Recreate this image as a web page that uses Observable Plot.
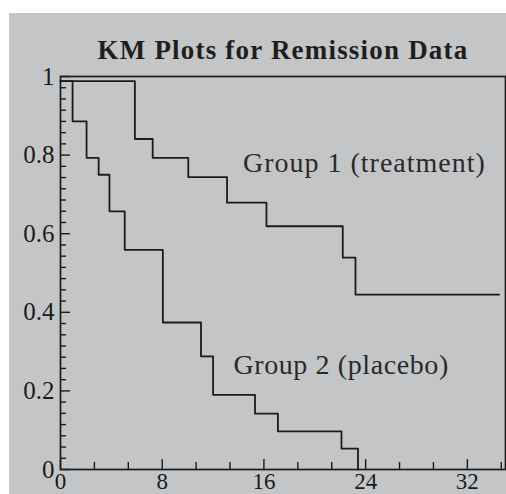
<!DOCTYPE html>
<html><head><meta charset="utf-8">
<script src="https://cdn.jsdelivr.net/npm/d3@7"></script>
<script src="https://cdn.jsdelivr.net/npm/@observablehq/plot@0.6"></script>
<style>body{margin:0;background:#fff}</style>
</head><body><div id="chart"></div>
<script>
// ---- data ----
const title = "KM Plots for Remission Data";
const g1Time = [0, 5.85, 7.25, 10.05, 13.1, 16.2, 22.2, 23.2, 34.5];
const g1Surv = [0.988, 0.841, 0.793, 0.744, 0.679, 0.619, 0.539, 0.445, 0.445];
const g2Time = [0, 0.95, 2.05, 3.0, 3.85, 5.05, 8.05, 11.05, 12.0, 15.3, 17.1, 22.1, 23.4];
const g2Surv = [0.988, 0.886, 0.793, 0.750, 0.657, 0.559, 0.374, 0.288, 0.190, 0.142, 0.097, 0.053, 0];
const xTicks = [0, 8, 16, 24, 32];
const xTickLabels = ["0", "8", "16", "24", "32"];
const yTicks = [0, 0.2, 0.4, 0.6, 0.8, 1];
const yTickLabels = ["0", "0.2", "0.4", "0.6", "0.8", "1"];
const xMinorPerMajor = 3;
const yMinorPerMajor = 7;
const groupLabels = ["Group 1 (treatment)", "Group 2 (placebo)"];
const labelX = [14.35, 13.6];
const labelY = [0.758, 0.244];

// ---- build ----
const W = 506, H = 494, ML = 60, MR = 1, MT = 76, MB = 25;
const plotW = W - ML - MR, plotH = H - MT - MB;
const xDomain = [0, 35];

const series = [
  ...g1Time.map((t, i) => ({t, s: g1Surv[i], g: "g1"})),
  ...g2Time.map((t, i) => ({t, s: g2Surv[i], g: "g2"}))
];
const xMinor = [];
for (let i = 0; i < xTicks.length; i++) {
  const step = (xTicks[1] - xTicks[0]) / xMinorPerMajor;
  for (let k = 1; k < xMinorPerMajor; k++) xMinor.push(xTicks[i] + k * step);
}
const yMinor = [];
for (let i = 0; i < yTicks.length - 1; i++) {
  const step = (yTicks[i + 1] - yTicks[i]) / yMinorPerMajor;
  for (let k = 1; k < yMinorPerMajor; k++) yMinor.push(yTicks[i] + k * step);
}
const ink = "#1b1b1b";
const labels = groupLabels.map((text, i) => ({text, x: labelX[i], y: labelY[i]}));

const chart = Plot.plot({
  width: W, height: H,
  marginLeft: ML, marginRight: MR, marginTop: MT, marginBottom: MB,
  x: {domain: xDomain},
  y: {domain: [0, 1]},
  style: {
    fontFamily: "'Liberation Serif', 'Times New Roman', serif",
    background: "linear-gradient(#c4c5c7,#c4c5c7) 9px 13px / 100% 100% no-repeat, #ffffff",
    color: ink,
    overflow: "visible"
  },
  marks: [
    Plot.ruleY(yMinor, {y: d => d, insetRight: plotW - 6, stroke: ink, strokeWidth: 1.4}),
    Plot.ruleY(yTicks, {y: d => d, insetRight: plotW - 10, stroke: ink, strokeWidth: 1.4}),
    Plot.ruleX(xMinor.filter(d => d < xDomain[1]), {x: d => d, insetTop: plotH - 7, stroke: ink, strokeWidth: 1.4}),
    Plot.ruleX(xTicks, {x: d => d, insetTop: plotH - 10, stroke: ink, strokeWidth: 1.4}),
    Plot.frame({stroke: ink, strokeWidth: 1.7}),
    Plot.line(series, {x: "t", y: "s", z: "g", curve: "step-after", stroke: ink, strokeWidth: 1.8}),
    Plot.axisY({ticks: yTicks, tickSize: 0, tickPadding: 6, tickFormat: d => yTickLabels[yTicks.indexOf(d)], fontSize: 25, label: null, fill: ink}),
    Plot.axisX({ticks: xTicks, tickSize: 0, tickPadding: 3, tickFormat: d => xTickLabels[xTicks.indexOf(d)], fontSize: 23, label: null, fill: ink}),
    Plot.text(labels, {x: "x", y: "y", text: "text", textAnchor: "start", lineAnchor: "bottom", fontSize: 28, fill: "#2a2a2a"}),
    Plot.text([title], {text: d => d, frameAnchor: "top", lineAnchor: "bottom", dy: -18, fontSize: 27, fontWeight: "bold", fill: "#1e1e1e"})
  ]
});
d3.select(chart).selectAll("text").filter(function () { return this.textContent === title; })
  .style("letter-spacing", "1.2px");
d3.select(chart).selectAll("text").filter(function () { return this.textContent === groupLabels[0]; })
  .style("letter-spacing", "1px");
d3.select(chart).selectAll("text").filter(function () { return this.textContent === groupLabels[1]; })
  .style("letter-spacing", "0.6px");
document.getElementById("chart").appendChild(chart);
</script>
</body></html>
